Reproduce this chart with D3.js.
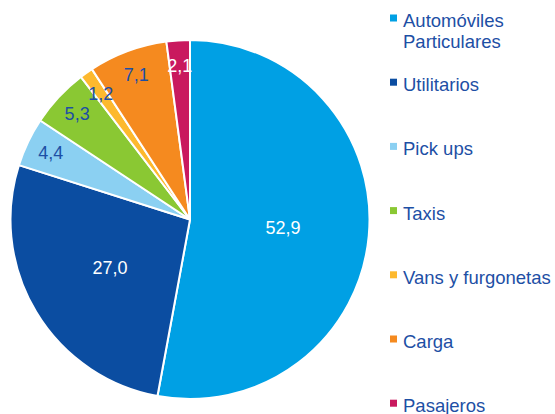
<!DOCTYPE html>
<html>
<head>
<meta charset="utf-8">
<script src="https://cdn.jsdelivr.net/npm/d3@7"></script>
<style>
  body { margin: 0; background: #fff; }
  svg { display: block; font-family: "Liberation Sans", Arial, sans-serif; }
</style>
</head>
<body>
<div id="chart"></div>
<script>
// Categories, values and colours
const categories = ["Automóviles Particulares", "Utilitarios", "Pick ups", "Taxis", "Vans y furgonetas", "Carga", "Pasajeros"];
const values = [52.9, 27.0, 4.4, 5.3, 1.2, 7.1, 2.1];
const labels = ["52,9", "27,0", "4,4", "5,3", "1,2", "7,1", "2,1"];
const colors = ["#00a0e4", "#0b4da1", "#8bd0f2", "#8ac833", "#fdb92e", "#f58a1f", "#c9195e"];
const labelColors = ["#fff", "#fff", "#1d4fa5", "#1d4fa5", "#1d4fa5", "#1d4fa5", "#fff"];

const width = 555, height = 414;
const cx = 190, cy = 219.5, radius = 179.5;

const svg = d3.select("#chart")
    .append("svg")
    .attr("width", width)
    .attr("height", height);

const data = categories.map((c, i) => ({ name: c, value: values[i], label: labels[i], i: i }));

const pie = d3.pie()
    .value((d) => d.value)
    .sort(null);

const arcs = pie(data);

const arc = d3.arc()
    .innerRadius(0)
    .outerRadius(radius);

const g = svg.append("g").attr("transform", `translate(${cx},${cy})`);

// Slices
g.selectAll("path")
    .data(arcs)
    .join("path")
    .attr("d", arc)
    .attr("fill", (d) => colors[d.data.i])
    .attr("stroke", "#fff")
    .attr("stroke-width", 2)
    .attr("stroke-linejoin", "round");

// Labels: big slices inside, small ones near the rim
const innerLabel = d3.arc().innerRadius(radius * 0.52).outerRadius(radius * 0.52);
const outerLabel = d3.arc().innerRadius(radius * 0.86).outerRadius(radius * 0.86);

g.selectAll("text")
    .data(arcs)
    .join("text")
    .attr("transform", (d) => {
        const a = d.data.value > 20 ? innerLabel : outerLabel;
        return `translate(${a.centroid(d)})`;
    })
    .attr("text-anchor", "middle")
    .attr("dy", "0.35em")
    .attr("font-size", 18)
    .attr("fill", (d) => labelColors[d.data.i])
    .text((d) => d.data.label);

// Legend
const legend = svg.append("g").attr("transform", "translate(390,27)");
const step = 64.2;

const item = legend.selectAll("g")
    .data(data)
    .join("g")
    .attr("transform", (d, i) => `translate(0,${i * step})`);

item.append("rect")
    .attr("x", 0)
    .attr("y", -12.5)
    .attr("width", 7)
    .attr("height", 7)
    .attr("fill", (d) => colors[d.i]);

item.append("text")
    .attr("x", 13)
    .attr("font-size", 18.5)
    .attr("fill", "#1d4fa5")
    .each(function (d) {
        const words = d.name === "Automóviles Particulares" ? ["Automóviles", "Particulares"] : [d.name];
        d3.select(this).selectAll("tspan")
            .data(words)
            .join("tspan")
            .attr("x", 13)
            .attr("dy", (w, j) => (j === 0 ? 0 : 21))
            .text((w) => w);
    });
</script>
</body>
</html>
